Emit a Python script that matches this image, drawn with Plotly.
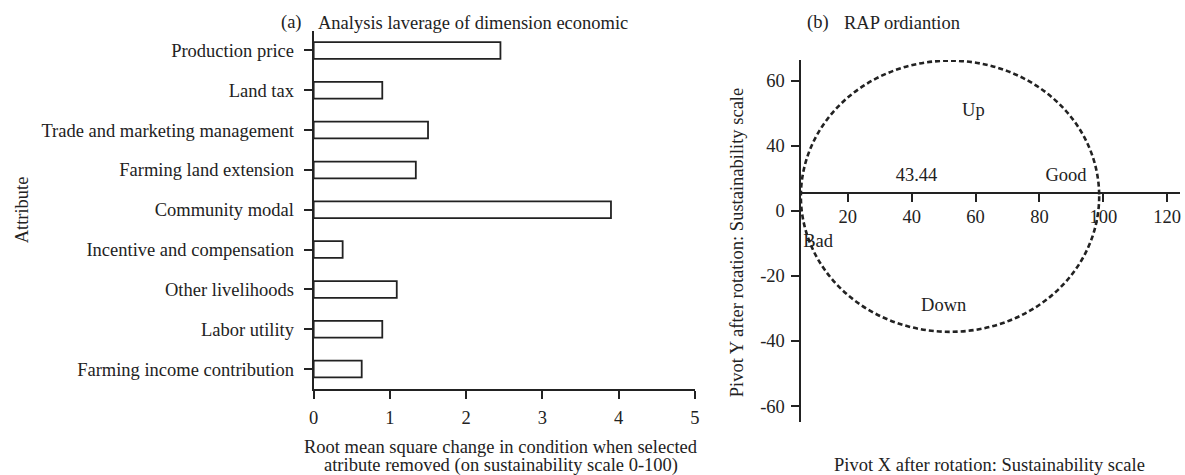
import plotly.graph_objects as go

W, H = 1185, 475
FONT = "Liberation Serif"
INK = "#222222"
FS = 18.5

# ---- panel (a) data ----
attributes = [
    "Production price",
    "Land tax",
    "Trade and marketing management",
    "Farming land extension",
    "Community modal",
    "Incentive and compensation",
    "Other livelihoods",
    "Labor utility",
    "Farming income contribution",
]
rms_change = [2.45, 0.90, 1.50, 1.34, 3.90, 0.38, 1.09, 0.90, 0.63]
x_ticks_a = [0, 1, 2, 3, 4, 5]

# ---- panel (b) data ----
ellipse_center = (52.0, 4.45)
ellipse_radius = (46.7, 41.65)
label_text = ["43.44", "Good", "Up", "Down", "Bad"]
label_x = [41.5, 88.3, 59.3, 50.0, 10.7]
label_y = [10.6, 10.6, 30.6, -29.5, -9.7]
x_ticks_b = [20, 40, 60, 80, 100, 120]
y_tick_pos_b = [40, 20, 0, -20, -40, -60]
y_tick_text_b = ["60", "40", "0", "-20", "-40", "-60"]


def px(x):
    return x / W


def py(y):
    return 1 - y / H


fig = go.Figure()

fig.add_trace(go.Bar(
    y=attributes, x=rms_change, orientation="h", width=0.42,
    marker=dict(color="white", line=dict(color=INK, width=1.8)),
    xaxis="x", yaxis="y", showlegend=False,
))

fig.add_trace(go.Scatter(
    x=label_x, y=label_y, text=label_text, mode="text",
    textfont=dict(family=FONT, size=FS, color=INK),
    xaxis="x2", yaxis="y2", showlegend=False, cliponaxis=False,
))

cx, cy = ellipse_center
rx, ry = ellipse_radius
fig.add_shape(type="circle", xref="x2", yref="y2",
              x0=cx - rx, x1=cx + rx, y0=cy - ry, y1=cy + ry,
              line=dict(color=INK, width=2.6, dash="5px,3px"))

axis_common = dict(showline=True, linecolor=INK, linewidth=2, ticks="outside",
                   ticklen=8, tickwidth=2, tickcolor=INK, showgrid=False,
                   zeroline=False, tickfont=dict(family=FONT, size=FS, color=INK))

fig.update_layout(
    width=W, height=H, margin=dict(l=0, r=0, t=0, b=0),
    paper_bgcolor="white", plot_bgcolor="white",
    font=dict(family=FONT, size=FS, color=INK),
    xaxis=dict(domain=[px(311.3), px(695.7)], range=[0, 5], tickvals=x_ticks_a,
               anchor="y", ticklabelstandoff=3, **axis_common),
    yaxis=dict(domain=[py(389), py(30.5)], range=[8.5, -0.5], type="category",
               categoryorder="array", categoryarray=attributes,
               anchor="x", ticklabelstandoff=6, **axis_common),
    xaxis2=dict(domain=[px(802.3), 1.0], range=[5.19, 124.0], tickvals=x_ticks_b,
                anchor="free", position=py(192.7), ticklabelstandoff=-1, **axis_common),
    yaxis2=dict(domain=[py(421.7), py(60)], range=[-64.8, 46.3],
                tickvals=y_tick_pos_b, ticktext=y_tick_text_b,
                anchor="x2", ticklabelstandoff=2, **axis_common),
)

ann_font = dict(family=FONT, size=FS, color=INK)
annotations = [
    dict(text="(a)", x=px(276), y=py(23), xanchor="left"),
    dict(text="Analysis laverage of dimension economic", x=px(314), y=py(23), xanchor="left"),
    dict(text="(b)", x=px(807), y=py(23), xanchor="left"),
    dict(text="RAP ordiantion", x=px(844), y=py(23), xanchor="left"),
    dict(text="Attribute", x=px(17), y=py(209.5), textangle=-90),
    dict(text="Root mean square change in condition when selected", x=px(500), y=py(447)),
    dict(text="atribute removed (on sustainability scale 0-100)", x=px(500), y=py(465)),
    dict(text="Pivot Y after rotation: Sustainability scale", x=px(738), y=py(242.5), textangle=-90),
    dict(text="Pivot X after rotation: Sustainability scale", x=px(993), y=py(465)),
]
for a in annotations:
    a.setdefault("xanchor", "center")
    fig.add_annotation(xref="paper", yref="paper", yanchor="middle", showarrow=False,
                       font=ann_font, **a)

fig.write_html("out.html", config={"displayModeBar": False},
               post_script="document.body.style.margin='0';document.body.style.overflow='hidden';")
